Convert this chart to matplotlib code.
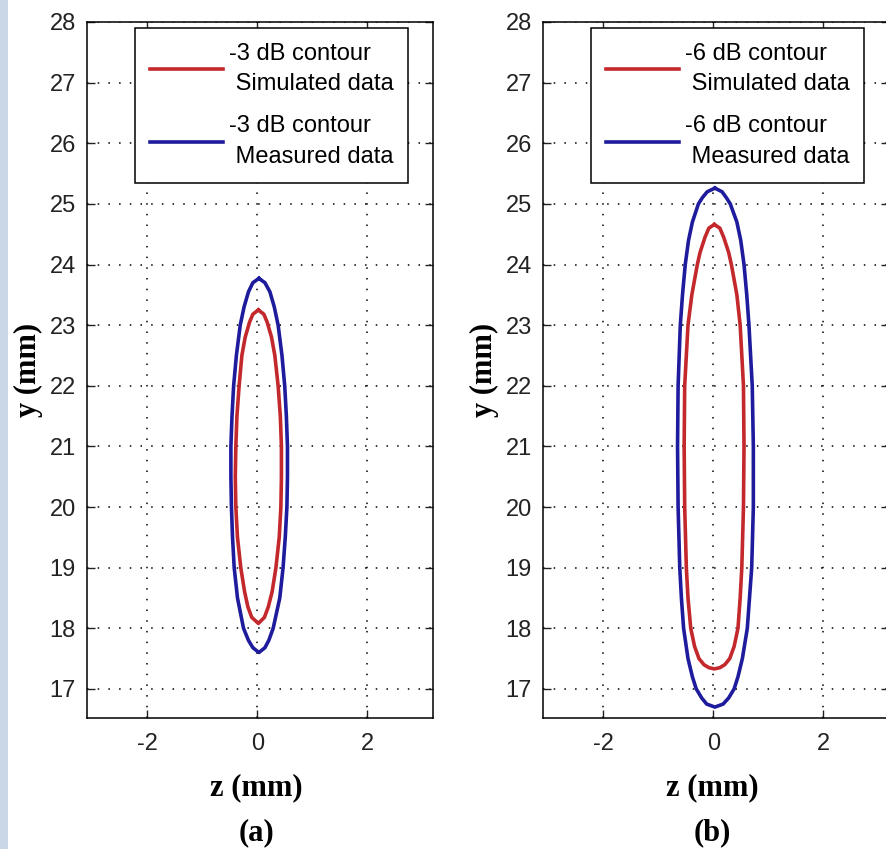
import matplotlib.pyplot as plt
import matplotlib.patches as mpatches

plt.rcParams['axes.unicode_minus'] = False

# contour outlines: y level, left z, right z (mm)
a_sim_y = [23.25, 23.18, 23.05, 22.8, 22.5, 22.0, 21.5, 21.0, 20.5, 20.0, 19.5, 19.0, 18.6, 18.35, 18.18, 18.08]
a_sim_l = [0.02, -0.08, -0.14, -0.22, -0.28, -0.33, -0.37, -0.39, -0.40, -0.39, -0.36, -0.30, -0.23, -0.17, -0.10, 0.02]
a_sim_r = [0.02, 0.12, 0.18, 0.26, 0.32, 0.38, 0.42, 0.44, 0.44, 0.43, 0.40, 0.34, 0.27, 0.20, 0.13, 0.02]

a_meas_y = [23.77, 23.7, 23.55, 23.3, 23.0, 22.5, 22.0, 21.5, 21.0, 20.5, 20.0, 19.5, 19.0, 18.5, 18.0, 17.8, 17.68, 17.6]
a_meas_l = [0.03, -0.08, -0.16, -0.24, -0.31, -0.38, -0.43, -0.46, -0.48, -0.48, -0.47, -0.45, -0.42, -0.36, -0.25, -0.16, -0.08, 0.03]
a_meas_r = [0.03, 0.14, 0.23, 0.31, 0.38, 0.45, 0.50, 0.53, 0.55, 0.55, 0.54, 0.51, 0.47, 0.41, 0.29, 0.21, 0.14, 0.03]

b_sim_y = [24.66, 24.6, 24.45, 24.2, 24.0, 23.5, 23.0, 22.0, 21.0, 20.0, 19.0, 18.5, 18.0, 17.7, 17.5, 17.4, 17.35, 17.33]
b_sim_l = [0.02, -0.08, -0.15, -0.24, -0.29, -0.39, -0.46, -0.52, -0.53, -0.52, -0.49, -0.46, -0.41, -0.34, -0.26, -0.17, -0.08, 0.02]
b_sim_r = [0.02, 0.12, 0.19, 0.28, 0.33, 0.43, 0.49, 0.55, 0.56, 0.55, 0.52, 0.49, 0.45, 0.38, 0.30, 0.21, 0.12, 0.02]

b_meas_y = [25.26, 25.2, 25.1, 25.0, 24.7, 24.4, 24.0, 23.5, 23.0, 22.0, 21.0, 20.0, 19.0, 18.5, 18.0, 17.5, 17.2, 17.0, 16.85, 16.75, 16.7]
b_meas_l = [0.03, -0.11, -0.20, -0.27, -0.38, -0.45, -0.51, -0.56, -0.60, -0.64, -0.65, -0.64, -0.61, -0.58, -0.54, -0.46, -0.38, -0.31, -0.21, -0.12, 0.03]
b_meas_r = [0.03, 0.16, 0.24, 0.31, 0.43, 0.50, 0.56, 0.61, 0.65, 0.71, 0.73, 0.73, 0.70, 0.66, 0.62, 0.53, 0.45, 0.38, 0.28, 0.18, 0.03]

panels = [
    ('(a)', '-3 dB contour', (a_sim_y, a_sim_l, a_sim_r), (a_meas_y, a_meas_l, a_meas_r)),
    ('(b)', '-6 dB contour', (b_sim_y, b_sim_l, b_sim_r), (b_meas_y, b_meas_l, b_meas_r)),
]

red = '#c3282c'
blue = '#1e1c9c'


def outline(y, left, right):
    # down the right side, back up the left side
    z = list(right) + list(left[::-1])
    yy = list(y) + list(y[::-1])
    return z, yy


fig = plt.figure(figsize=(8.86, 8.49), dpi=100)
fig.patches.append(mpatches.Rectangle((0, 0), 8 / 886, 1, transform=fig.transFigure,
                                      facecolor='#c9d7e6', edgecolor='none'))

lefts = [87 / 886, 543 / 886]
for (tag, level, sim, meas), x0 in zip(panels, lefts):
    ax = fig.add_axes([x0, 1 - 718 / 849, 346 / 886, 696 / 849])
    z, y = outline(*sim)
    ax.plot(z, y, color=red, lw=2.6, solid_joinstyle='round', label=level + '\n Simulated data')
    z, y = outline(*meas)
    ax.plot(z, y, color=blue, lw=2.6, solid_joinstyle='round', label=level + '\n Measured data')

    ax.set_xlim(-3.1, 3.2)
    ax.set_ylim(16.52, 28)
    ax.set_xticks([-2, 0, 2])
    ax.set_yticks(range(17, 29))
    ax.grid(True, color='black', linestyle=(0, (1, 6)), linewidth=1.1)
    ax.tick_params(direction='in', length=6, width=1, top=True, right=True,
                   labelsize=17, colors='#222222')
    ax.tick_params(axis='x', pad=11)
    ax.tick_params(axis='y', pad=8)
    for lab in ax.get_xticklabels() + ax.get_yticklabels():
        lab.set_fontfamily('Liberation Sans')
    for sp in ax.spines.values():
        sp.set_linewidth(1.1)

    ax.set_xlabel('z (mm)', fontfamily='Liberation Serif', fontweight='bold', fontsize=22)
    ax.xaxis.set_label_coords(0.49, -0.10)
    ax.xaxis.label.set_va('center')
    ax.set_ylabel('y (mm)', fontfamily='Liberation Serif', fontweight='bold', fontsize=22)
    ax.yaxis.set_label_coords(-0.168, 0.5)
    ax.yaxis.label.set_va('center')
    ax.text(0.49, -0.165, tag, transform=ax.transAxes, ha='center', va='center',
            fontfamily='Liberation Serif', fontweight='bold', fontsize=22)

    leg = ax.legend(loc='upper right', bbox_to_anchor=(0.928, 0.991),
                    prop={'family': 'Liberation Sans', 'size': 17},
                    fancybox=False, framealpha=1, edgecolor='black',
                    handlelength=3.1, handletextpad=0.25, borderpad=0.62,
                    labelspacing=0.85, borderaxespad=0)
    for t in leg.get_texts():
        t.set_linespacing(1.5)
    leg.get_frame().set_linewidth(1.1)

fig.savefig('out.png', dpi=100)
